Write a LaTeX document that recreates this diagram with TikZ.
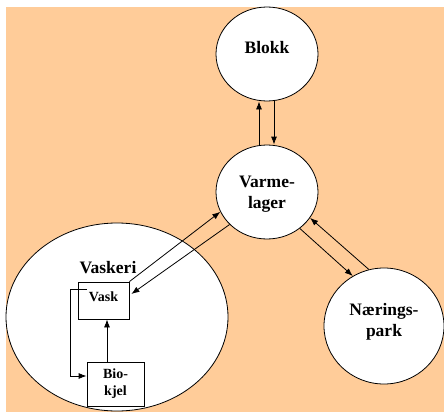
\documentclass[tikz,border=0pt]{standalone}
\usepackage{fontspec}
\setmainfont{Liberation Serif}
\usetikzlibrary{shapes.geometric,arrows.meta,calc}
\definecolor{bgorange}{RGB}{255,204,153}
\begin{document}
\begin{tikzpicture}[x=1pt,y=-1pt,
  circ/.style={ellipse,draw=black,line width=0.8pt,fill=white,inner sep=0pt},
  bx/.style={rectangle,draw=black,line width=0.8pt,fill=white,inner sep=0pt},
  big/.style={font=\fontsize{17.5}{21}\selectfont\bfseries,align=center},
  small/.style={font=\fontsize{14}{17}\selectfont\bfseries,align=center},
  arr/.style={line width=0.8pt,-{Latex[length=8pt,width=6pt]}},
  ln/.style={line width=0.8pt}]
\useasboundingbox (0,0) rectangle (444,412);
\fill[white] (0,0) rectangle (444,412);
\fill[bgorange] (6,7) rectangle (444,412);
% nodes
\node[circ,minimum width=102pt,minimum height=94pt] (blokk) at (267,54) {};
\node[big] (blokkt) at (267,48) {Blokk};
\node[circ,minimum width=102pt,minimum height=94pt] (varme) at (267,192) {};
\node[big] (varmet) at (267,194) {Varme-\\lager};
\node[circ,minimum width=120pt,minimum height=116pt] (naer) at (384,326) {};
\node[big] (naert) at (384,322) {Nærings-\\park};
\node[circ,minimum width=222pt,minimum height=188pt] (vaskeri) at (117,317) {};
\node[big] (vaskerit) at (108,268) {Vaskeri};
\node[bx,minimum width=51pt,minimum height=37pt] (vask) at (103.5,300.5) {};
\node[small] (vaskt) at (103.5,297) {Vask};
\node[bx,minimum width=57pt,minimum height=44pt] (bio) at (115.5,384) {};
\node[small] (biot) at (115.5,384) {Bio-\\kjel};
% Blokk <-> Varmelager
\draw[arr] ([xshift=-8pt]varme.north) -- ([xshift=-8pt]blokk.south);
\draw[arr] ([xshift=7pt]blokk.south) -- ([xshift=7pt]varme.north);
% Vask <-> Varmelager
\draw[arr] (vask.north east) -- (varme.203);
\draw[arr] (varme.221) -- ($(vask.east)+(2,-6.5)$);
% Varmelager <-> Naeringspark
\draw[arr] (varme.312) -- (naer.122);
\draw[arr] (naer.105) -- (varme.329);
% Biokjel -> Vask
\coordinate (bk) at ($(bio.north)+(-8.5,0)$);
\draw[arr] (bk) -- (bk |- vask.south);
% loop Vask -> Biokjel
\coordinate (ls) at ($(vask.north west)+(9,8)$);
\coordinate (le) at ($(bio.west)+(0,-8)$);
\draw[arr] (ls) -- ++(-16,0) |- (le);
\end{tikzpicture}
\end{document}
